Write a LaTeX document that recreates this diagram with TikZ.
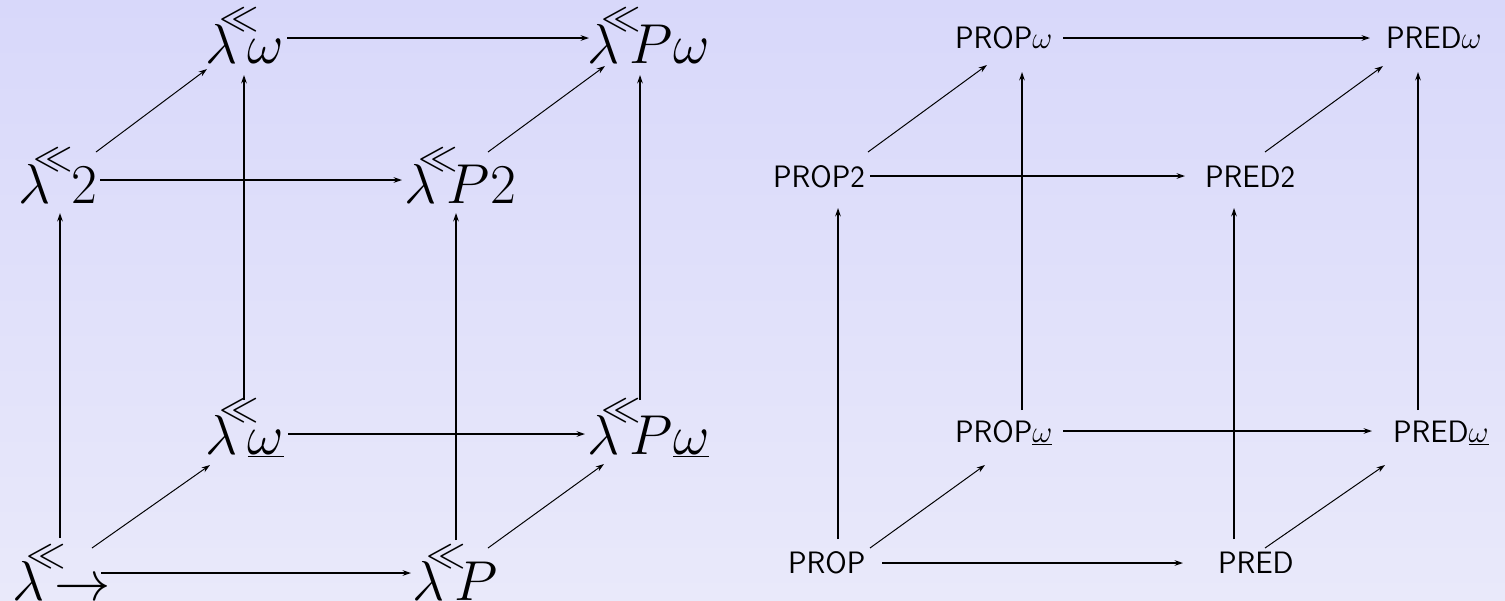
\RequirePackage{fix-cm}
\documentclass[tikz,border=0pt]{standalone}
\usepackage{fontspec}
\usetikzlibrary{arrows.meta,calc}
\definecolor{bgtop}{RGB}{216,216,250}
\definecolor{bgbot}{RGB}{233,233,250}
\newcommand\lmb[1][-8pt]{\lambda\kern-12.3pt\raisebox{24pt}{$\scriptstyle\ll$}\kern#1}
\tikzset{
  lam/.style={anchor=base west, inner sep=0pt, outer sep=0pt, font=\fontsize{40}{48}\selectfont},
  sfn/.style={anchor=base west, inner sep=0pt, outer sep=0pt, font=\fontsize{22}{26}\selectfont\sffamily},
  ar/.style={-{Stealth[length=6pt,width=4pt]}, line width=1.1pt},
  dg/.style={-{Stealth[length=6pt,width=4pt]}, line width=0.7pt},
}
\begin{document}
\begin{tikzpicture}[x=0.025cm,y=-0.025cm]
\shade[top color=bgtop,bottom color=bgbot] (0,0) rectangle (1505,600);
\useasboundingbox (0,0) rectangle (1505,600);
% left cube
\node[lam] (L0) at (12,600) {$\lmb{\to}$};
\node[lam] (L1) at (412,600) {$\lmb P$};
\node[lam] (L2) at (205,454) {$\lmb\underline{\omega}$};
\node[lam] (L3) at (587,454) {$\lmb P\underline{\omega}$};
\node[lam] (L4) at (19,203) {$\lmb[-1pt]2$};
\node[lam] (L5) at (404,203) {$\lmb P2$};
\node[lam] (L6) at (205,63) {$\lmb\omega$};
\node[lam] (L7) at (587,63) {$\lmb P\omega$};
\draw[ar] ($(L0.base west)+(48,-62)$) -- ($(L4.base west)+(41,10)$);
\draw[ar] ($(L2.base west)+(39,-54)$) -- ($(L6.base west)+(39,12)$);
\draw[ar] ($(L1.base west)+(44,-60)$) -- ($(L5.base west)+(52,10)$);
\draw[ar] ($(L3.base west)+(53,-54)$) -- ($(L7.base west)+(53,12)$);
\draw[ar] ($(L6.base west)+(82,-25)$) -- ($(L7.base west)+(2,-25)$);
\draw[ar] ($(L4.base west)+(81,-23)$) -- ($(L5.base west)+(-2,-23)$);
\draw[ar] ($(L2.base west)+(83,-20)$) -- ($(L3.base west)+(-2,-20)$);
\draw[ar] ($(L0.base west)+(89,-27)$) -- ($(L1.base west)+(-1,-27)$);
\draw[dg] ($(L0.base west)+(80,-52)$) -- ($(L2.base west)+(5,11)$);
\draw[dg] ($(L1.base west)+(76,-52)$) -- ($(L3.base west)+(17,10)$);
\draw[dg] ($(L4.base west)+(77,-51)$) -- ($(L6.base west)+(2,6)$);
\draw[dg] ($(L5.base west)+(84,-51)$) -- ($(L7.base west)+(18,3)$);
% right cube
\node[sfn] (R0) at (788,573.5) {PROP};
\node[sfn] (R1) at (1218,573.5) {PRED};
\node[sfn] (R2) at (955,442) {PROP$\underline{\omega}$};
\node[sfn] (R3) at (1393,442) {PRED$\underline{\omega}$};
\node[sfn] (R4) at (773,187) {PROP2};
\node[sfn] (R5) at (1205,187) {PRED2};
\node[sfn] (R6) at (955,48) {PROP$\omega$};
\node[sfn] (R7) at (1386,48) {PRED$\omega$};
\draw[ar] ($(R0.base west)+(50,-34.5)$) -- ($(R4.base west)+(65,21)$);
\draw[ar] ($(R2.base west)+(67,-32)$) -- ($(R6.base west)+(67,24)$);
\draw[ar] ($(R1.base west)+(16,-34.5)$) -- ($(R5.base west)+(29,21)$);
\draw[ar] ($(R3.base west)+(25,-32)$) -- ($(R7.base west)+(32,24)$);
\draw[ar] ($(R0.base west)+(94,-10.5)$) -- ($(R1.base west)+(-35,-10.5)$);
\draw[ar] ($(R4.base west)+(97,-11)$) -- ($(R5.base west)+(-20,-11)$);
\draw[ar] ($(R2.base west)+(108,-11)$) -- ($(R3.base west)+(-21,-11)$);
\draw[ar] ($(R6.base west)+(108,-10)$) -- ($(R7.base west)+(-16,-10)$);
\draw[dg] ($(R0.base west)+(82,-25.5)$) -- ($(R2.base west)+(30,23)$);
\draw[dg] ($(R1.base west)+(47,-25.5)$) -- ($(R3.base west)+(-8,23)$);
\draw[dg] ($(R4.base west)+(95,-35)$) -- ($(R6.base west)+(32,17)$);
\draw[dg] ($(R5.base west)+(60,-35)$) -- ($(R7.base west)+(-3,18)$);
\end{tikzpicture}
\end{document}
